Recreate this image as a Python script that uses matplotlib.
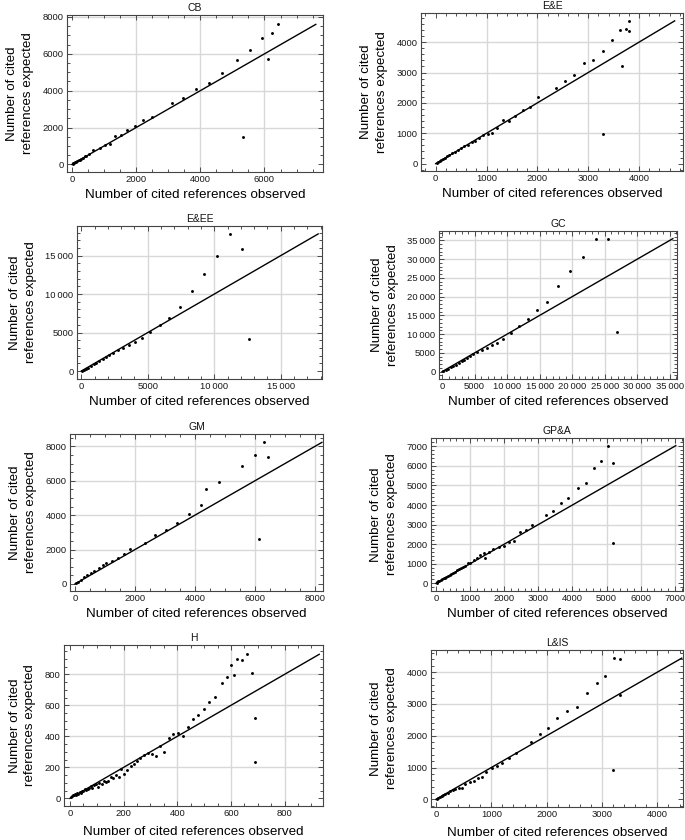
import matplotlib
matplotlib.use("Agg")
import matplotlib.pyplot as plt
import numpy as np
from matplotlib.ticker import MultipleLocator, FuncFormatter

plt.rcParams['font.family'] = ['Liberation Sans', 'DejaVu Sans']

# ---------------- data (observed, expected) ----------------
CB_obs = [6410, 6250, 5930, 5540, 6120, 5130, 4690, 4280, 3870, 3470, 3110, 2490, 2210, 1950,
          1710, 1520, 1350, 1170, 1040, 860, 670, 520, 450, 400, 340, 290, 250, 210, 170, 130,
          100, 70, 40, 20, 5330]
CB_exp = [7600, 7150, 6860, 6230, 5710, 5690, 4970, 4400, 4090, 3590, 3350, 2560, 2400, 2090,
          1870, 1600, 1530, 1120, 1030, 880, 770, 580, 470, 430, 360, 310, 260, 230, 180, 150,
          110, 80, 50, 25, 1500]

EE_obs = [3810, 3800, 3750, 3630, 3470, 3660, 3290, 3100, 2920, 2720, 2540, 2360, 2010, 1860,
          1710, 1570, 1440, 1320, 1200, 1100, 1020, 940, 860, 780, 720, 640, 560, 500, 440, 380,
          320, 270, 220, 180, 140, 110, 80, 50, 20, 3300]
EE_exp = [4700, 4370, 4440, 4400, 4060, 3200, 3700, 3410, 3300, 2910, 2720, 2480, 2200, 1880,
          1770, 1570, 1420, 1430, 1160, 1000, 960, 930, 840, 750, 700, 620, 580, 500, 440, 380,
          340, 280, 240, 200, 150, 120, 90, 60, 30, 960]

EEE_obs = [11210, 12090, 10230, 9260, 8300, 7420, 6620, 5890, 5190, 4590, 4040, 3560, 3140,
           2730, 2380, 2080, 1830, 1610, 1350, 1130, 950, 730, 530, 330, 180, 60, 12640]
EEE_exp = [17820, 15870, 14950, 12660, 10400, 8320, 6940, 5980, 5070, 4250, 3810, 3340, 3030,
           2730, 2380, 2040, 1820, 1600, 1340, 1080, 870, 610, 430, 260, 130, 40, 4160]

GC_obs = [23620, 25490, 21600, 19680, 17860, 16150, 14540, 13140, 11840, 10640, 9400, 8460,
          7680, 6850, 6130, 5450, 4830, 4310, 3790, 3370, 3010, 2540, 2130, 1710, 1350, 930,
          570, 210, 26950]
GC_exp = [35460, 35280, 30590, 26950, 22870, 18530, 16400, 14100, 12150, 10200, 8780, 7710,
          7000, 6380, 5760, 5230, 4700, 4170, 3720, 3190, 2750, 2310, 1860, 1510, 1150, 800,
          530, 270, 10460]

GM_obs = [6300, 6000, 6420, 5570, 4810, 4360, 4210, 3800, 3390, 3020, 2660, 2350, 1840, 1640,
          1440, 1250, 1050, 950, 790, 640, 530, 410, 300, 200, 110, 30, 6150]
GM_exp = [8230, 7480, 7380, 6870, 5940, 5520, 4620, 4040, 3570, 3110, 2840, 2410, 2040, 1730,
          1530, 1360, 1200, 1090, 910, 760, 660, 520, 390, 250, 140, 60, 2640]

GPA_obs = [5040, 4850, 5190, 4620, 4390, 4160, 3870, 3670, 3430, 3230, 2820, 2640, 2470, 2300,
           2130, 1980, 1840, 1670, 1550, 1440, 1400, 1300, 1200, 1100, 1000, 940, 860, 800, 740,
           680, 620, 560, 500, 450, 400, 350, 300, 260, 220, 180, 140, 100, 70, 40, 20, 5200]
GPA_exp = [7030, 6230, 6140, 5900, 5120, 4860, 4350, 4080, 3700, 3480, 2990, 2730, 2630, 2170,
           2120, 1930, 1830, 1760, 1600, 1300, 1540, 1450, 1300, 1200, 1060, 1020, 900, 830, 760,
           730, 660, 580, 530, 470, 420, 390, 330, 290, 250, 210, 170, 130, 100, 60, 30, 2080]

H_obs = [660, 641, 622, 599, 679, 690, 690, 612, 587, 565, 540, 520, 500, 478, 458, 440, 420,
         403, 385, 368, 352, 336, 320, 305, 290, 276, 262, 250, 238, 226, 214, 203, 192, 182,
         172, 162, 152, 143, 134, 126, 118, 110, 103, 96, 90, 84, 78, 72, 66, 60, 55, 50, 45,
         40, 36, 32, 28, 24, 20, 16, 12, 8, 4]
H_exp = [929, 892, 901, 860, 811, 516, 237, 796, 781, 742, 655, 622, 578, 535, 510, 462, 400,
         420, 415, 392, 300, 335, 275, 285, 295, 280, 262, 240, 220, 210, 185, 160, 190, 140,
         150, 130, 135, 115, 105, 110, 95, 100, 75, 90, 85, 70, 78, 65, 60, 55, 58, 45, 48, 35,
         40, 30, 38, 25, 30, 20, 25, 15, 10]

LIS_obs = [3210, 3320, 3060, 2900, 2720, 2540, 2360, 2190, 2030, 1870, 1710, 1450, 1310, 1200,
           1100, 1010, 900, 830, 750, 680, 610, 530, 470, 410, 350, 300, 250, 210, 170, 130, 100,
           70, 40, 15, 3190, 3320]
LIS_exp = [4440, 4420, 3870, 3650, 3350, 2910, 2780, 2570, 2230, 2040, 1800, 1450, 1310, 1150,
           1050, 990, 870, 690, 660, 580, 540, 490, 350, 370, 330, 290, 250, 200, 170, 140, 110,
           80, 50, 20, 920, 3290]

panels = [
    ("CB", CB_obs, CB_exp),
    ("E&E", EE_obs, EE_exp),
    ("E&EE", EEE_obs, EEE_exp),
    ("GC", GC_obs, GC_exp),
    ("GM", GM_obs, GM_exp),
    ("GP&A", GPA_obs, GPA_exp),
    ("H", H_obs, H_exp),
    ("L&IS", LIS_obs, LIS_exp),
]

# ---------------- layout (pixels: left, right, top, bottom), limits, ticks ----------------
W, H = 685, 840
layout = {
    "CB":   dict(box=(67, 323, 15, 172),  xlim=(-155, 7824),  ylim=(-414, 8108),  major=2000, minor=500,  xpad=3),
    "E&E":  dict(box=(421, 683, 13, 171), xlim=(-288, 4864),  ylim=(-242, 4959),  major=1000, minor=200,  xpad=3),
    "E&EE": dict(box=(77, 322, 226, 379), xlim=(-326, 18110), ylim=(-1040, 18855), major=5000, minor=1000, xpad=3),
    "GC":   dict(box=(439, 677, 231, 379), xlim=(-460, 36100), ylim=(-1950, 37500), major=5000, minor=1000, xpad=3),
    "GM":   dict(box=(70, 323, 434, 591), xlim=(-166, 8268),  ylim=(-408, 8718),  major=2000, minor=500,  xpad=3),
    "GP&A": dict(box=(431, 683, 438, 591), xlim=(-147, 7243), ylim=(-392, 7423),  major=1000, minor=200,  xpad=3),
    "H":    dict(box=(64, 323, 645, 806), xlim=(-22, 943),    ylim=(-49, 989),    major=200,  minor=50,   xpad=5.5),
    "L&IS": dict(box=(431, 683, 650, 807), xlim=(-90, 4462),  ylim=(-242, 4695),  major=1000, minor=200,  xpad=5.5),
}


def fmt(v, pos):
    v = int(round(v))
    if abs(v) >= 10000:
        return f"{v:,}".replace(",", "\u2009")
    return str(v)


fig = plt.figure(figsize=(W / 100, H / 100), dpi=100)
fig.patch.set_facecolor("white")

for name, obs, exp in panels:
    L = layout[name]
    l, r, t, b = L["box"]
    ax = fig.add_axes([l / W, 1 - b / H, (r - l) / W, (b - t) / H])
    ax.set_xlim(*L["xlim"])
    ax.set_ylim(*L["ylim"])
    ax.xaxis.set_major_locator(MultipleLocator(L["major"]))
    ax.yaxis.set_major_locator(MultipleLocator(L["major"]))
    ax.xaxis.set_minor_locator(MultipleLocator(L["minor"]))
    ax.yaxis.set_minor_locator(MultipleLocator(L["minor"]))
    ax.xaxis.set_major_formatter(FuncFormatter(fmt))
    ax.yaxis.set_major_formatter(FuncFormatter(fmt))

    # light grid lines at the non-zero major ticks
    for gx in np.arange(L["major"], L["xlim"][1], L["major"]):
        ax.axvline(gx, color="#d8d8d8", lw=1.0, zorder=0)
    for gy in np.arange(L["major"], L["ylim"][1], L["major"]):
        ax.axhline(gy, color="#d8d8d8", lw=1.0, zorder=0)

    ax.tick_params(which="both", direction="in", top=True, right=True, colors="#333333",
                   labelcolor="#1a1a1a", labelsize=6.8, width=0.6, pad=2.5)
    ax.tick_params(which="major", length=3.5)
    ax.tick_params(which="minor", length=2)
    for s in ax.spines.values():
        s.set_color("#444444")
        s.set_linewidth(0.8)

    m = max(max(obs), max(exp))
    ax.plot([0, m], [0, m], color="black", lw=1.0, zorder=2)
    ax.plot(obs, exp, "o", color="black", ms=2.1, mew=0, zorder=3)

    ax.set_title(name, fontsize=7.5, pad=3, color="#111111")
    ax.set_xlabel("Number of cited references observed", fontsize=9.6, labelpad=L["xpad"])
    ax.set_ylabel("Number of cited\nreferences expected", fontsize=9.6, linespacing=1.4,
                  labelpad=6)

fig.savefig("out.png", dpi=100, facecolor="white")
